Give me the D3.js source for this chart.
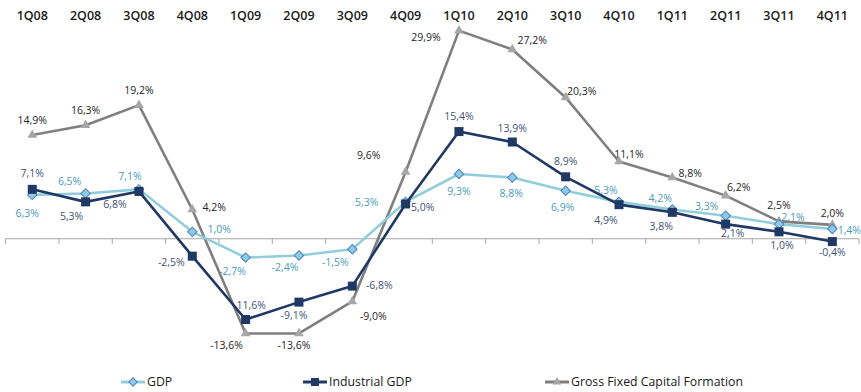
<!DOCTYPE html>
<html>
<head>
<meta charset="utf-8">
<script src="https://cdn.jsdelivr.net/npm/d3@7"></script>
<style>
  body { margin: 0; background: #fff; }
  svg { display: block; }
</style>
</head>
<body>
<svg id="chart"></svg>
<script>
const quarters = ["1Q08", "2Q08", "3Q08", "4Q08", "1Q09", "2Q09", "3Q09", "4Q09",
                  "1Q10", "2Q10", "3Q10", "4Q10", "1Q11", "2Q11", "3Q11", "4Q11"];
const gdp = [6.3, 6.5, 7.1, 1.0, -2.7, -2.4, -1.5, 5.3, 9.3, 8.8, 6.9, 5.3, 4.2, 3.3, 2.1, 1.4];
const industrialGdp = [7.1, 5.3, 6.8, -2.5, -11.6, -9.1, -6.8, 5.0, 15.4, 13.9, 8.9, 4.9, 3.8, 2.1, 1.0, -0.4];
const gfcf = [14.9, 16.3, 19.2, 4.2, -13.6, -13.6, -9.0, 9.6, 29.9, 27.2, 20.3, 11.1, 8.8, 6.2, 2.5, 2.0];
const seriesNames = ["GDP", "Industrial GDP", "Gross Fixed Capital Formation"];

// label offsets (dx, dy) from the marker, as in the original chart
const gdpLabelOffset = [[-5,18],[-16,-12],[-9,-13],[27,-2],[-13,14],[-14,12],[-17,13],[-39,0],
                        [0,17],[-1,16],[-3,17],[-13,-12],[-12,-11],[-19,-9],[14,-7],[17,1]];
const indLabelOffset = [[0,-16],[-14,14],[-24,13],[-21,6],[4,-14],[-5,13],[27,-1],[17,3],
                        [0,-15],[0,-14],[0,-15],[-13,16],[-11,14],[7,9],[3,14],[0,11]];
const gfcfLabelOffset = [[0,-15],[0,-15],[0,-15],[22,-2],[-19,12],[-5,12],[21,15],[-37,-17],
                         [-33,7],[20,-9],[16,-6],[10,-7],[18,-4],[13,-8],[0,-16],[0,-12]];

const width = 861, height = 392;
const font = "'Open Sans', sans-serif";

const svg = d3.select("#chart")
    .attr("width", width)
    .attr("height", height)
    .style("font-family", font);

const x = d3.scaleBand().domain(quarters).range([5.6, 859]);
const y = d3.scaleLinear().domain([-20, 32]).range([378, 16]);
const cx = q => x(q) + x.bandwidth() / 2;

const series = [
    { name: seriesNames[0], values: gdp, offsets: gdpLabelOffset, line: "#92cddc", labelColor: "#4a9cb8", marker: "diamond" },
    { name: seriesNames[1], values: industrialGdp, offsets: indLabelOffset, line: "#1f3864", labelColor: "#3f5276", marker: "square" },
    { name: seriesNames[2], values: gfcf, offsets: gfcfLabelOffset, line: "#7f7f7f", labelColor: "#262626", marker: "triangle" }
];

// category labels along the top
svg.append("g").selectAll("text")
    .data(quarters)
    .enter().append("text")
    .attr("x", d => cx(d))
    .attr("y", 20)
    .attr("text-anchor", "middle")
    .style("font-size", "12.5px")
    .style("font-weight", 600)
    .style("fill", "#1a1a1a")
    .text(d => d);

// zero axis with ticks between categories
const axis = svg.append("g").attr("transform", `translate(0,${y(0)})`);
axis.append("line")
    .attr("x1", x.range()[0]).attr("x2", x.range()[1])
    .attr("stroke", "#a6a6a6").attr("stroke-width", 1.2);
const tickPos = quarters.map(q => x(q)).concat([x.range()[1]]);
axis.selectAll(".tick")
    .data(tickPos)
    .enter().append("line")
    .attr("x1", d => d).attr("x2", d => d)
    .attr("y1", 0).attr("y2", 5)
    .attr("stroke", "#a6a6a6").attr("stroke-width", 1);

// data labels (drawn under the lines)
series.forEach(s => {
    svg.append("g").selectAll("text")
        .data(s.values)
        .enter().append("text")
        .attr("x", (d, i) => cx(quarters[i]) + s.offsets[i][0])
        .attr("y", (d, i) => y(d) + s.offsets[i][1])
        .attr("dy", "0.35em")
        .attr("text-anchor", "middle")
        .style("font-size", "10.5px")
        .style("fill", s.labelColor)
        .text(d => d.toFixed(1).replace(".", ",") + "%");
});

function drawMarker(sel, type, size) {
    if (type === "square") {
        sel.append("rect")
            .attr("x", -size / 2).attr("y", -size / 2)
            .attr("width", size).attr("height", size)
            .attr("fill", "#1f3864");
    } else if (type === "diamond") {
        sel.append("path")
            .attr("d", d3.symbol(d3.symbolSquare, size * size * 0.55)())
            .attr("transform", "rotate(45)")
            .attr("fill", "#8ccbe8")
            .attr("stroke", "#4f81bd")
            .attr("stroke-width", 1);
    } else {
        sel.append("path")
            .attr("d", d3.symbol(d3.symbolTriangle, size * size * 0.5)())
            .attr("fill", "#a6a6a6");
    }
}

const line = d3.line()
    .x((d, i) => cx(quarters[i]))
    .y(d => y(d));

// draw GFCF first, then GDP, then Industrial on top
[series[2], series[0], series[1]].forEach(s => {
    svg.append("path")
        .datum(s.values)
        .attr("fill", "none")
        .attr("stroke", s.line)
        .attr("stroke-width", 2.6)
        .attr("stroke-linejoin", "round")
        .attr("d", line);

    svg.append("g").selectAll("g")
        .data(s.values)
        .enter().append("g")
        .attr("transform", (d, i) => `translate(${cx(quarters[i])},${y(d)})`)
        .each(function() { drawMarker(d3.select(this), s.marker, 9); });
});

// legend
const legendX = [121, 303, 545];
const legend = svg.append("g").selectAll("g")
    .data(series)
    .enter().append("g")
    .attr("transform", (d, i) => `translate(${legendX[i]},382)`);

legend.append("line")
    .attr("x1", 0).attr("x2", 24)
    .attr("stroke", d => d.line)
    .attr("stroke-width", 3);

legend.append("g")
    .attr("transform", "translate(12,0)")
    .each(function(d) { drawMarker(d3.select(this), d.marker, 8); });

legend.append("text")
    .attr("x", 26)
    .attr("dy", "0.35em")
    .style("font-size", "12.3px")
    .style("fill", "#1a1a1a")
    .text(d => d.name);
</script>
</body>
</html>
